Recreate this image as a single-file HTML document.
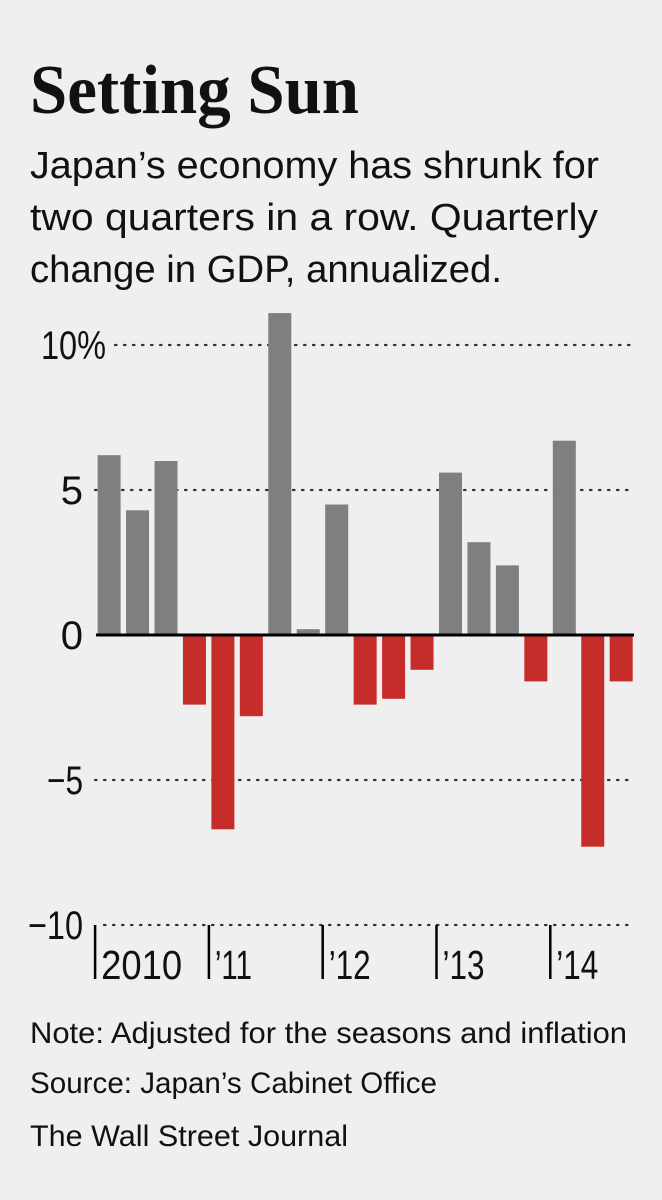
<!DOCTYPE html>
<html><head><meta charset="utf-8">
<style>
html,body{margin:0;padding:0;background:#efefef;}
svg{display:block;}
text{font-family:"Liberation Sans",sans-serif;fill:#111;}
</style></head>
<body>
<svg id="chart" width="662" height="1200" viewBox="0 0 662 1200">
<rect x="0" y="0" width="662" height="1200" fill="#efefef"/>
<text x="30" y="113" font-size="70" font-weight="bold" style="font-family:'Liberation Serif',serif" textLength="329" lengthAdjust="spacingAndGlyphs">Setting Sun</text>
<text x="30" y="178" font-size="38" textLength="569" lengthAdjust="spacingAndGlyphs">Japan’s economy has shrunk for</text>
<text x="30" y="230" font-size="38" textLength="568" lengthAdjust="spacingAndGlyphs">two quarters in a row. Quarterly</text>
<text x="30" y="282" font-size="38" textLength="472" lengthAdjust="spacingAndGlyphs">change in GDP, annualized.</text>
<g id="grid"></g>
<g id="bars"></g>
<g id="axes"></g>
<text x="30" y="1043" font-size="30" textLength="597" lengthAdjust="spacingAndGlyphs">Note: Adjusted for the seasons and inflation</text>
<text x="30" y="1093" font-size="30" textLength="407" lengthAdjust="spacingAndGlyphs">Source: Japan’s Cabinet Office</text>
<text x="30" y="1146" font-size="30" textLength="318" lengthAdjust="spacingAndGlyphs">The Wall Street Journal</text>
</svg>
<script>
const quarters = ["2010Q1","2010Q2","2010Q3","2010Q4","2011Q1","2011Q2","2011Q3","2011Q4","2012Q1","2012Q2","2012Q3","2012Q4","2013Q1","2013Q2","2013Q3","2013Q4","2014Q1","2014Q2","2014Q3"];
const gdpChange = [6.2,4.3,6.0,-2.4,-6.7,-2.8,11.1,0.2,4.5,-2.4,-2.2,-1.2,5.6,3.2,2.4,-1.6,6.7,-7.3,-1.6];
const yTicks = [10,5,0,-5,-10];
const yTickLabels = ["10%","5","0","\u22125","\u221210"];
const yearLabels = ["2010","\u201911","\u201912","\u201913","\u201914"];
const yearStartIndex = [0,4,8,12,16];

const NS="http://www.w3.org/2000/svg";
const y0=635, pxPerUnit=29;
function yScale(v){return y0 - v*pxPerUnit;}
const x0=97.6, pitch=28.45, barW=23;
function xScale(i){return x0 + i*pitch;}
function mk(tag,attrs,parent){const e=document.createElementNS(NS,tag);for(const k in attrs)e.setAttribute(k,attrs[k]);parent.appendChild(e);return e;}

const grid=document.getElementById('grid');
const bars=document.getElementById('bars');
const axes=document.getElementById('axes');

yTicks.forEach((t,i)=>{
  if(t!==0){
    const startX = t===10?115:(t===-10?104:95);
    const g=mk('line',{x1:startX,x2:630,y1:yScale(t),y2:yScale(t),stroke:'#333','stroke-width':2.2,'stroke-dasharray':'1.5 7.5','stroke-linecap':'round'},grid);
    
    
  }
  const lab=mk('text',{x:83,y:yScale(t)+14,'font-size':40,'text-anchor':'end','fill':'#222'},axes);
  if(t===10){lab.setAttribute('x',106);lab.setAttribute('textLength','65');lab.setAttribute('lengthAdjust','spacingAndGlyphs');}
  if(t===-5){lab.setAttribute('textLength','36');lab.setAttribute('lengthAdjust','spacingAndGlyphs');}
  if(t===-10){lab.setAttribute('textLength','55');lab.setAttribute('lengthAdjust','spacingAndGlyphs');}
  lab.textContent=yTickLabels[i];
  
  
});

gdpChange.forEach((v,i)=>{
  const top=Math.min(yScale(v),y0), h=Math.abs(yScale(v)-y0);
  const r=mk('rect',{x:xScale(i),y:top,width:barW,height:h,fill:v>=0?'#7f7f7f':'#c62d2a'},bars);
  
  
});

const zl=mk('line',{x1:96,x2:634,y1:y0,y2:y0,stroke:'#000','stroke-width':3},axes);



yearStartIndex.forEach((idx,i)=>{
  const x=xScale(idx)-2.5;
  const tk=mk('line',{x1:x,x2:x,y1:925,y2:979,stroke:'#000','stroke-width':2.5},axes);
  
  
  const tl=mk('text',{x:x+6,y:979,'font-size':41},axes);
  tl.textContent=yearLabels[i];
  tl.setAttribute('textLength', i===0?'81':(i===1?'37':'42'));
  tl.setAttribute('lengthAdjust','spacingAndGlyphs');
  
  
});
</script>
</body></html>
